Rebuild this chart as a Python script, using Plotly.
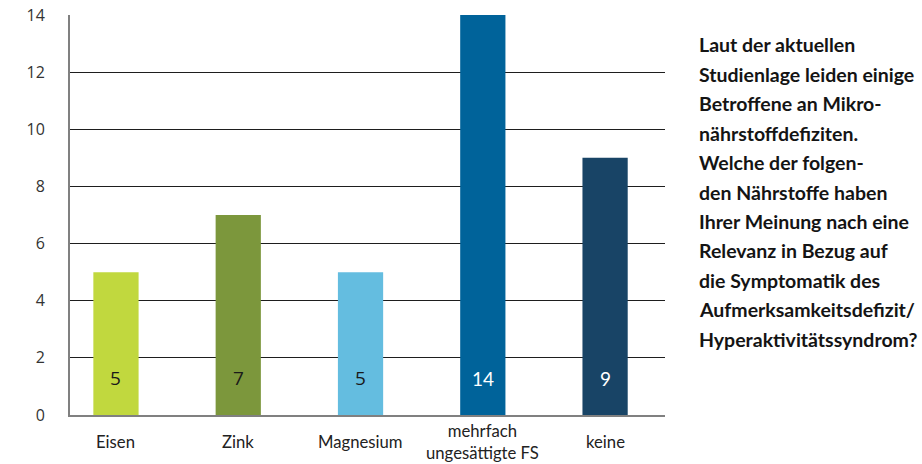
import plotly.graph_objects as go

categories = ["Eisen", "Zink", "Magnesium", "mehrfach<br>ungesättigte FS", "keine"]
values = [5, 7, 5, 14, 9]
bar_colors = ["#c1d83e", "#7c973c", "#64bde0", "#00639a", "#184466"]
label_colors = ["#1a1a1a", "#1a1a1a", "#1a1a1a", "#ffffff", "#ffffff"]
label_fonts = ["Open Sans", "Open Sans", "Open Sans", "Lato", "Lato"]
y_ticks = [0, 2, 4, 6, 8, 10, 12, 14]
side_text = [
    "Laut der aktuellen",
    "Studienlage leiden einige",
    "Betroffene an Mikro-",
    "nährstoffdefiziten.",
    "Welche der folgen-",
    "den Nährstoffe haben",
    "Ihrer Meinung nach eine",
    "Relevanz in Bezug auf",
    "die Symptomatik des",
    "Aufmerksamkeitsdefizit/",
    "Hyperaktivitätssyndrom?",
]

W, H = 922, 464
ml, mr, mt, mb = 70, 257, 15, 49

fig = go.Figure()
fig.add_trace(go.Bar(
    x=list(range(len(categories))),
    y=values,
    marker=dict(color=bar_colors, line=dict(width=0)),
    width=0.37,
    hoverinfo="skip",
))

annotations = []
for i, (v, c, f) in enumerate(zip(values, label_colors, label_fonts)):
    annotations.append(dict(
        x=i, y=1.28, xref="x", yref="y", text=str(v), showarrow=False,
        font=dict(family=f, size=19, color=c), xanchor="center", yanchor="middle",
    ))
for i, cat in enumerate(categories):
    annotations.append(dict(
        x=i, y=-27 / (H - mt - mb), xref="x", yref="paper", text=cat, showarrow=False,
        font=dict(family="Lato", size=16.7, color="#222222"), xanchor="center",
        yanchor="middle",
    ))
line_gap = 29.4
for j, line in enumerate(side_text):
    ypx = 45 + j * line_gap
    annotations.append(dict(
        x=(697 - ml) / (W - ml - mr), y=1 - (ypx - mt) / (H - mt - mb),
        xref="paper", yref="paper", text="<b>" + line + "</b>", showarrow=False,
        font=dict(family="Lato", size=19.5, color="#141414"),
        xanchor="left", yanchor="middle",
    ))

fig.update_layout(
    width=W, height=H,
    margin=dict(l=ml, r=mr, t=mt, b=mb, autoexpand=False),
    paper_bgcolor="white", plot_bgcolor="white",
    showlegend=False,
    annotations=annotations,
    xaxis=dict(
        range=[-0.376, 4.49], showticklabels=False, showgrid=False, zeroline=False,
        showline=True, linecolor="#808080", linewidth=2, ticks="", automargin=False,
    ),
    yaxis=dict(
        range=[0, 14], tickvals=y_ticks, showgrid=True, gridcolor="#1e1e1e", gridwidth=1,
        zeroline=False, showline=True, linecolor="#808080", linewidth=2, ticks="",
        ticklabelstandoff=20, automargin=False,
        tickfont=dict(family="Open Sans", size=16, color="#333333"),
    ),
)

fig.write_html("out.html")
